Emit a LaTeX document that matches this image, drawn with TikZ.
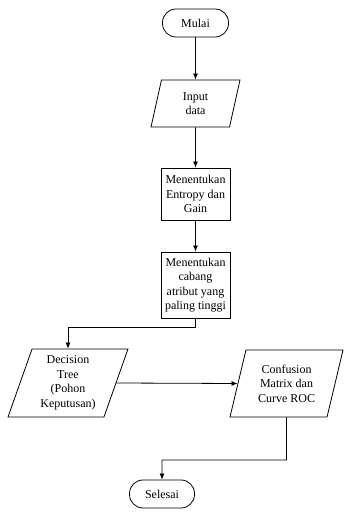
\documentclass[tikz,border=0pt]{standalone}
\usepackage{fontspec}
\setmainfont{Liberation Serif}
\usetikzlibrary{shapes.geometric,arrows.meta}
\begin{document}
\begin{tikzpicture}[x=1pt,y=1pt,
  every node/.style={font=\fontsize{12}{14.5}\selectfont, align=center, inner sep=0pt},
  term/.style={draw, line width=0.8pt, rectangle, rounded corners=13.5pt, minimum width=66pt, minimum height=28pt},
  procbox/.style={draw, line width=0.8pt, rectangle, minimum width=69pt},
  iobox/.style={draw, line width=0.8pt, trapezium, trapezium stretches body},
  arr/.style={line width=0.8pt, -{Latex[length=6pt,width=5pt]}},
  ln/.style={line width=0.8pt}]
\useasboundingbox (0,0) rectangle (344,513);
\node[term] (mulai) at (195.5,490) {Mulai};
\node[iobox, trapezium left angle=65, trapezium right angle=115, minimum width=89pt, minimum height=47pt] (inp) at (195.5,409.5) {Input\\data};
\node[procbox, minimum height=52pt] (box1) at (195.5,319) {Menentukan\\Entropy dan\\Gain};
\node[procbox, minimum height=66pt] (box2) at (195.5,228) {Menentukan\\cabang\\atribut yang\\paling tinggi};
\node[iobox, trapezium left angle=66, trapezium right angle=114, minimum width=120pt, minimum height=68pt] (dec) at (68,130) {Decision\\Tree\\(Pohon\\Keputusan)};
\node[iobox, trapezium left angle=67, trapezium right angle=113, minimum width=113pt, minimum height=67pt] (conf) at (286.5,129.5) {Confusion\\Matrix dan\\Curve ROC};
\node[term, minimum width=65pt] (sel) at (162,19) {Selesai};
\coordinate (e1) at (195.5,186);
\coordinate (e2) at (286.5,53);
\draw[arr] (mulai.south) -- (mulai.south |- inp.north);
\draw[arr] (inp.south) -- (box1.north);
\draw[arr] (box1.south) -- (box2.north);
\draw[arr] (box2.south) -- (e1) -| (dec.north);
\draw[arr] (dec.east) -- (conf.west);
\draw[arr] (conf.south) -- (e2) -| (sel.north);
\end{tikzpicture}
\end{document}
